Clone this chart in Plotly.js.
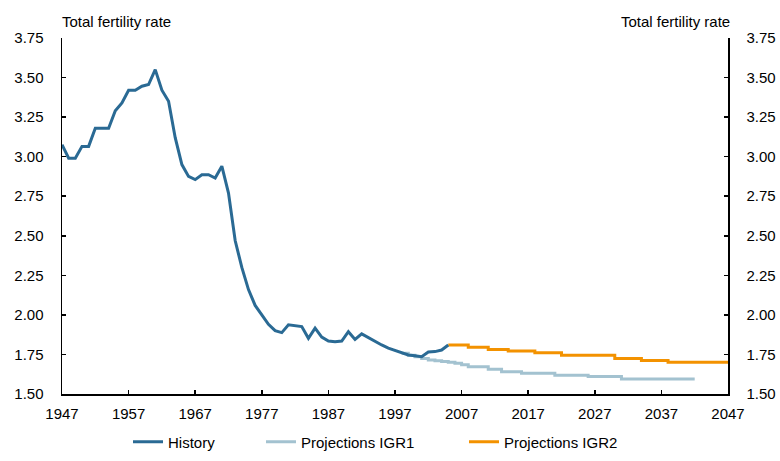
<!DOCTYPE html>
<html>
<head>
<meta charset="utf-8">
<script src="https://cdn.plot.ly/plotly-3.0.1.min.js"></script>
<style>html,body{margin:0;padding:0;background:#fff;}#chart{width:780px;height:461px;}</style>
</head>
<body>
<div id="chart"></div>
<script>
// History (annual)
const historyYears = [1947,1948,1949,1950,1951,1952,1953,1954,1955,1956,1957,1958,1959,1960,1961,1962,1963,1964,1965,1966,1967,1968,1969,1970,1971,1972,1973,1974,1975,1976,1977,1978,1979,1980,1981,1982,1983,1984,1985,1986,1987,1988,1989,1990,1991,1992,1993,1994,1995,1996,1997,1998,1999,2000,2001,2002,2003,2004,2005];
const historyTFR = [3.076,2.99,2.99,3.065,3.065,3.18,3.18,3.18,3.29,3.34,3.42,3.42,3.445,3.456,3.55,3.42,3.35,3.12,2.95,2.875,2.855,2.886,2.886,2.865,2.94,2.77,2.47,2.30,2.16,2.06,2.00,1.94,1.90,1.888,1.937,1.93,1.926,1.852,1.916,1.86,1.835,1.83,1.835,1.894,1.845,1.88,1.855,1.835,1.81,1.79,1.775,1.76,1.747,1.742,1.736,1.765,1.768,1.778,1.81];

// Projections IGR1
const igr1Years = [1998,1999,2000,2001,2002,2003,2004,2005,2006,2007,2008,2009,2010,2011,2012,2013,2014,2015,2016,2017,2018,2019,2020,2021,2022,2023,2024,2025,2026,2027,2028,2029,2030,2031,2032,2033,2034,2035,2036,2037,2038,2039,2040,2041,2042];
const igr1TFR = [1.757,1.745,1.735,1.725,1.715,1.71,1.705,1.70,1.694,1.685,1.673,1.673,1.673,1.656,1.656,1.641,1.641,1.641,1.631,1.631,1.631,1.631,1.631,1.618,1.618,1.618,1.618,1.618,1.61,1.61,1.61,1.61,1.61,1.595,1.595,1.595,1.595,1.595,1.595,1.595,1.595,1.595,1.595,1.595,1.595];

// Projections IGR2
const igr2Years = [2005,2006,2007,2008,2009,2010,2011,2012,2013,2014,2015,2016,2017,2018,2019,2020,2021,2022,2023,2024,2025,2026,2027,2028,2029,2030,2031,2032,2033,2034,2035,2036,2037,2038,2039,2040,2041,2042,2043,2044,2045,2046,2047];
const igr2TFR = [1.81,1.81,1.81,1.795,1.795,1.795,1.782,1.782,1.782,1.772,1.772,1.772,1.772,1.761,1.761,1.761,1.761,1.745,1.745,1.745,1.745,1.745,1.745,1.745,1.745,1.725,1.725,1.725,1.725,1.711,1.711,1.711,1.711,1.70,1.70,1.70,1.70,1.70,1.70,1.70,1.70,1.70,1.70];

const xTicks = [1947,1957,1967,1977,1987,1997,2007,2017,2027,2037,2047];
const yTicks = [1.50,1.75,2.00,2.25,2.50,2.75,3.00,3.25,3.50,3.75];
const yTickText = ['1.50','1.75','2.00','2.25','2.50','2.75','3.00','3.25','3.50','3.75'];

const FONT = 'Liberation Sans, Arial, sans-serif';

const traces = [
  {x: igr1Years, y: igr1TFR, type: 'scatter', mode: 'lines', name: 'Projections IGR1', legend: 'legend2',
   line: {color: '#a3c2d0', width: 3, shape: 'hv'}},
  {x: igr2Years, y: igr2TFR, type: 'scatter', mode: 'lines', name: 'Projections IGR2', legend: 'legend3',
   line: {color: '#f39200', width: 3, shape: 'hv'}},
  {x: historyYears, y: historyTFR, type: 'scatter', mode: 'lines', name: 'History', legend: 'legend',
   line: {color: '#2a6a94', width: 3}},
  {x: [1947], y: [1.5], yaxis: 'y2', type: 'scatter', mode: 'lines', showlegend: false,
   hoverinfo: 'skip', line: {color: 'rgba(0,0,0,0)'}}
];

const axisY = {
  range: [1.5, 3.75], tickvals: yTicks, ticktext: yTickText,
  ticks: 'inside', ticklen: 4, tickwidth: 1.5, tickcolor: '#000',
  showline: true, linecolor: '#000', linewidth: 1.5,
  showgrid: false, zeroline: false, fixedrange: true,
  tickfont: {family: FONT, size: 15, color: '#000'}, ticklabelstandoff: 14
};

// plot area: left 62px, width 666px
function px2paper(px) { return (px - 62) / 666; }
function legendAt(px) {
  return {orientation: 'h', x: px2paper(px), xanchor: 'left', y: -0.135, yanchor: 'middle',
          font: {family: FONT, size: 15, color: '#000'}, itemwidth: 30, bgcolor: 'rgba(0,0,0,0)'};
}

const layout = {
  width: 780, height: 461,
  margin: {l: 62, r: 52, t: 38, b: 67, autoexpand: false},
  paper_bgcolor: '#fff', plot_bgcolor: '#fff',
  showlegend: true,
  legend: legendAt(128),
  legend2: legendAt(261),
  legend3: legendAt(464),
  xaxis: {
    range: [1947, 2047], tickvals: xTicks,
    ticks: 'inside', ticklen: 4, tickwidth: 1.5, tickcolor: '#000',
    showline: true, linecolor: '#000', linewidth: 1.5,
    showgrid: false, zeroline: false,
    tickfont: {family: FONT, size: 15, color: '#000'}, ticklabelstandoff: 5
  },
  yaxis: Object.assign({}, axisY, {side: 'left'}),
  yaxis2: Object.assign({}, axisY, {side: 'right', overlaying: 'y'}),
  annotations: [
    {text: 'Total fertility rate', xref: 'paper', yref: 'paper', x: 0, y: 1, xanchor: 'left', yanchor: 'bottom',
     yshift: 6, xshift: -2, showarrow: false, font: {family: FONT, size: 15, color: '#000'}},
    {text: 'Total fertility rate', xref: 'paper', yref: 'paper', x: 1, y: 1, xanchor: 'right', yanchor: 'bottom',
     yshift: 6, xshift: 4, showarrow: false, font: {family: FONT, size: 15, color: '#000'}}
  ]
};

Plotly.newPlot('chart', traces, layout, {displayModeBar: false, staticPlot: true});
</script>
</body>
</html>
